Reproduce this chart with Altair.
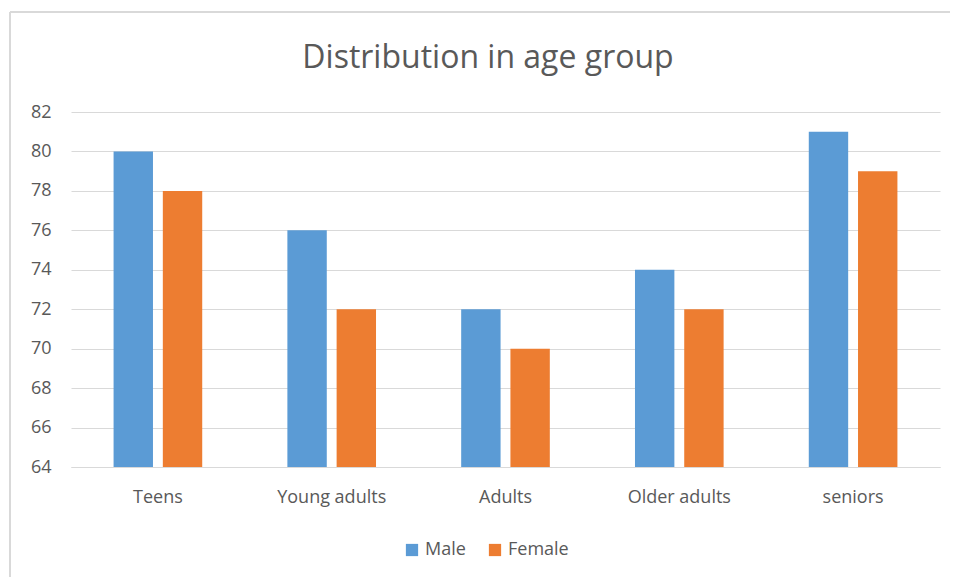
import altair as alt
import pandas as pd

title_text = "Distribution in age group"
categories = ["Teens", "Young adults", "Adults", "Older adults", "seniors"]
male = [80, 76, 72, 74, 81]
female = [78, 72, 70, 72, 79]
series = ["Male", "Female"]
colors = ["#5B9BD5", "#ED7D31"]

rows = []
for c, m, f in zip(categories, male, female):
    rows.append({"group": c, "series": "Male", "value": m})
    rows.append({"group": c, "series": "Female", "value": f})
df = pd.DataFrame(rows)
one = pd.DataFrame({"t": [title_text]})

FONT = "Open Sans"
GRAY = "#595959"

bars = alt.Chart(df).mark_bar().encode(
    x=alt.X("group:N", sort=categories, title=None,
            scale=alt.Scale(paddingInner=0.49, paddingOuter=0.245),
            axis=alt.Axis(labelAngle=0, ticks=False, domainColor="#d9d9d9",
                          labelFont=FONT, labelFontSize=18, labelColor=GRAY,
                          labelPadding=21, grid=False)),
    xOffset=alt.XOffset("series:N", sort=series,
                        scale=alt.Scale(paddingInner=0.2, paddingOuter=0)),
    y=alt.Y("value:Q", title=None,
            scale=alt.Scale(domain=[64, 82], zero=False, nice=False),
            axis=alt.Axis(values=list(range(64, 83, 2)), ticks=False, domain=False,
                          gridColor="#d9d9d9", labelFont=FONT, labelFontSize=18,
                          labelColor=GRAY, labelPadding=20)),
    y2=alt.datum(64),
    color=alt.Color("series:N", sort=series,
                    scale=alt.Scale(domain=series, range=colors),
                    legend=alt.Legend(title=None, orient="none", direction="horizontal",
                                      legendX=332, legendY=429,
                                      symbolType="square", symbolSize=150,
                                      symbolStrokeWidth=0,
                                      labelFont=FONT, labelFontSize=18, labelColor=GRAY,
                                      columnPadding=20)),
)

title = alt.Chart(one).mark_text(font=FONT, fontSize=32, color=GRAY,
                                 align="center", baseline="middle").encode(
    text="t:N", x=alt.value(417), y=alt.value(-54))

frame_left = alt.Chart(one).mark_rule(color="#d9d9d9", strokeWidth=2).encode(
    x=alt.value(-61), y=alt.value(-100), y2=alt.value(480))
frame_top = alt.Chart(one).mark_rule(color="#d9d9d9", strokeWidth=2).encode(
    x=alt.value(-61), x2=alt.value(900), y=alt.value(-100))

chart = alt.layer(frame_left, frame_top, title, bars).properties(
    width=869,
    height=355,
    autosize=alt.AutoSizeParams(type="none"),
    padding={"left": 63, "top": 104, "right": 10, "bottom": 110},
).configure_view(stroke=None)

chart.save("out.html", embed_options={"renderer": "svg", "actions": False})
